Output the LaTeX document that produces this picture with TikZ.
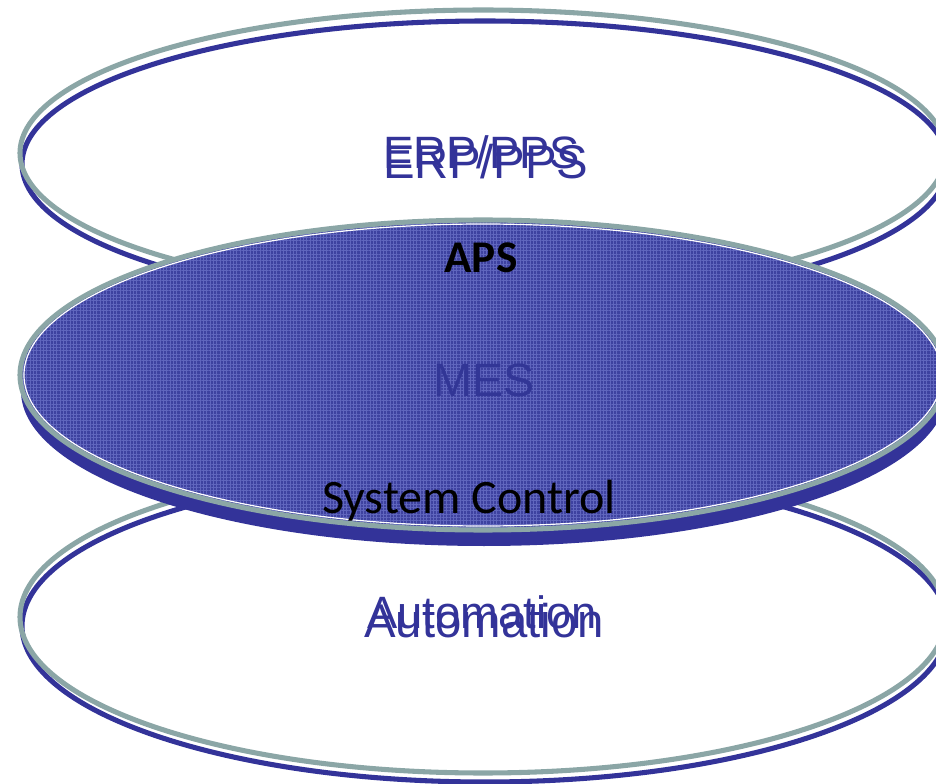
\documentclass[tikz,border=0pt]{standalone}
\usepackage{fontspec}
\usetikzlibrary{patterns.meta}
\setmainfont{Liberation Sans}
\newfontfamily\calfont{Carlito}
\definecolor{rimblue}{RGB}{51,51,153}
\definecolor{rimgray}{RGB}{139,166,166}
\definecolor{layerfill}{RGB}{62,66,160}
\definecolor{layergrid}{RGB}{96,102,190}
\definecolor{meslabel}{RGB}{50,54,150}
\tikzset{
  rimshadow/.style={draw=rimblue, line width=3.8pt},
  rim/.style={draw=rimgray, line width=3.8pt},
  layertext/.style={inner sep=0pt, text=rimblue, font=\fontsize{34}{40}\selectfont},
  blacktext/.style={inner sep=0pt, text=black},
}
\begin{document}
\begin{tikzpicture}[x=0.75pt, y=-0.75pt]
\useasboundingbox (0,0) rectangle (936,784);
\clip (0,0) rectangle (936,784);

% lower layer: Automation
\path[rimshadow] (485,626) ellipse [x radius=463, y radius=156];
\path[rim] (483,617) ellipse [x radius=463, y radius=156];

% upper layer: ERP/PPS
\path[rimshadow] (485,164) ellipse [x radius=463, y radius=143];
\path[rim] (483,153) ellipse [x radius=463, y radius=143];

% middle layer: textured disc with its shadow
\fill[rimblue] (484,391) ellipse [x radius=463, y radius=155];
\fill[layerfill] (483,375) ellipse [x radius=463, y radius=155];
\fill[pattern={Lines[angle=0, distance=2.5pt, line width=0.55pt]}, pattern color=layergrid]
  (483,375) ellipse [x radius=463, y radius=155];
\fill[pattern={Lines[angle=90, distance=2.5pt, line width=0.55pt]}, pattern color=layergrid]
  (483,375) ellipse [x radius=463, y radius=155];
\draw[white, line width=0.9pt] (483,375) ellipse [x radius=459, y radius=151];
\path[rim] (483,375) ellipse [x radius=463, y radius=155];

% labels
\node[layertext, anchor=base west] (erpA) at (383,179)
  {\fontsize{35.5}{40}\selectfont ERP/PPS};
\node[layertext, anchor=base west] (erpB) at (383,169) {ERP/PPS};

\node[blacktext, font=\calfont\bfseries\fontsize{34}{40}\selectfont] (aps) at (481,258) {APS};
\node[inner sep=0pt, text=meslabel, font=\fontsize{35}{40}\selectfont, anchor=base] (mes) at (484,397) {MES};
\node[blacktext, font=\calfont\fontsize{36}{40}\selectfont, anchor=base] (sysctl) at (469,513) {System Control};

\node[layertext, anchor=base west] (autoA) at (364,637)
  {\fontsize{35.5}{40}\selectfont Automation};
\node[layertext, anchor=base west] (autoB) at (367,628) {Automation};
\end{tikzpicture}
\end{document}
